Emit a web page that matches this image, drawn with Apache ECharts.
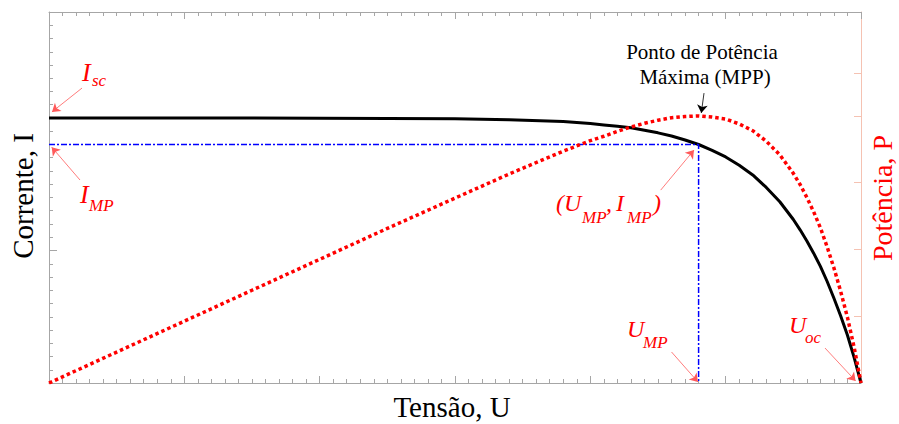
<!DOCTYPE html>
<html>
<head>
<meta charset="utf-8">
<script src="https://cdn.jsdelivr.net/npm/echarts@6/dist/echarts.min.js"></script>
<style>
  html, body { margin: 0; padding: 0; background: #fff; }
  #chart { width: 899px; height: 424px; }
</style>
</head>
<body>
<div id="chart"></div>
<script>
// curvas I-V e P-V
var tensao   = [0, 5, 10, 15, 20, 25, 30, 34, 38, 40, 41, 42, 43, 44, 45, 46, 47, 48, 49, 50, 51, 52, 53, 54, 55, 55.5, 56, 56.5, 57, 57.5, 58, 58.5, 59, 59.5, 60];
var corrente = [1, 1, 1, 1, 0.999, 0.998, 0.997, 0.993, 0.987, 0.979, 0.974, 0.969, 0.963, 0.954, 0.944, 0.932, 0.917, 0.9, 0.878, 0.853, 0.822, 0.785, 0.738, 0.684, 0.617, 0.578, 0.536, 0.49, 0.44, 0.383, 0.32, 0.253, 0.18, 0.095, 0];
var potencia = [0, 5, 10, 15, 20, 25, 29.9, 33.8, 37.5, 39.2, 39.9, 40.7, 41.4, 42.0, 42.5, 42.9, 43.1, 43.2, 43.0, 42.7, 41.9, 40.8, 39.1, 36.9, 33.9, 32.1, 30.0, 27.7, 25.1, 22.0, 18.6, 14.8, 10.6, 5.7, 0];
// ponto de maxima potencia (U_MP, I_MP)
var mpp = [48, 0.9];
// marcas do eixo da potencia
var ticksPotencia = [10.8, 21.6, 32.4, 43.2, 50.1];

var cinza = '#a6a6a6';
var salmao = '#f5c2b2';
var vermelho = '#ff0000';
var serif = '"Liberation Serif", "Times New Roman", serif';

function eixoX(pos) {
  return {
    type: 'value', position: pos, min: 0, max: 60, interval: 10,
    axisLine: { show: true, onZero: false, lineStyle: { color: cinza, width: 1 } },
    axisTick: { show: true, inside: true, length: 7, lineStyle: { color: cinza } },
    minorTick: { show: true, splitNumber: 10, length: 4, lineStyle: { color: cinza } },
    axisLabel: { show: false },
    splitLine: { show: false },
    minorSplitLine: { show: false }
  };
}

// seta (markLine) de um texto ate o ponto
function seta(de, ate, cor) {
  var item = [{ coord: de }, { coord: ate }];
  if (cor) item[0].lineStyle = { color: cor };
  return item;
}

// texto da anotacao
function txt(x, y, s, size, cor, extra) {
  extra = extra || {};
  var t = {
    type: 'text', x: x, y: y, silent: true, z: 100,
    style: {
      text: s, fill: cor || vermelho,
      font: (extra.normal ? '' : 'italic ') + size + 'px ' + serif,
      lineHeight: extra.lineHeight || size + 2,
      align: extra.align || 'left', verticalAlign: 'middle'
    }
  };
  if (extra.rotation) t.rotation = extra.rotation;
  return t;
}

var myChart = echarts.init(document.getElementById('chart'), null, { renderer: 'svg' });

myChart.setOption({
  animation: false,
  backgroundColor: '#fff',
  grid: { left: 49, right: 38, top: 12, bottom: 41, outerBoundsMode: 'none' },
  xAxis: [eixoX('bottom'), eixoX('top')],
  yAxis: [
    { // corrente - marcas menores
      type: 'value', position: 'left', min: 0, max: 1.4, interval: 0.05,
      axisLine: { show: true, onZero: false, lineStyle: { color: cinza } },
      axisTick: { show: true, inside: true, length: 4, lineStyle: { color: cinza } },
      axisLabel: { show: false }, splitLine: { show: false }
    },
    { // potencia
      type: 'value', position: 'right', min: 0, max: 60,
      axisLine: { show: true, onZero: false, lineStyle: { color: salmao } },
      axisTick: { show: true, inside: true, length: 7, customValues: ticksPotencia, lineStyle: { color: salmao } },
      axisLabel: { show: false }, splitLine: { show: false }
    },
    { // corrente - marcas maiores
      type: 'value', position: 'left', min: 0, max: 1.4, interval: 0.5,
      axisLine: { show: false },
      axisTick: { show: true, inside: true, length: 8, lineStyle: { color: cinza } },
      axisLabel: { show: false }, splitLine: { show: false }
    }
  ],
  series: [
    {
      name: 'Corrente', type: 'line', xAxisIndex: 0, yAxisIndex: 0,
      data: tensao.map(function (u, i) { return [u, corrente[i]]; }),
      showSymbol: false, z: 2,
      lineStyle: { color: '#000', width: 3, join: 'round' }
    },
    {
      name: 'MPP', type: 'line', xAxisIndex: 0, yAxisIndex: 0,
      data: [[0, mpp[1]], [mpp[0], mpp[1]], [mpp[0], 0]],
      showSymbol: false, z: 3,
      lineStyle: { color: '#0000ff', width: 1.5, type: [6, 2, 2, 2] },
      markLine: {
        silent: true, symbol: ['none', 'arrow'], symbolSize: 8,
        label: { show: false },
        lineStyle: { color: '#ff5a5a', width: 0.8, type: 'solid' },
        data: [
          seta([2.44, 1.113], [0.22, 1.023]),
          seta([2.29, 0.766], [0.2, 0.89]),
          seta([45.2, 0.728], [47.66, 0.879]),
          seta([46.0, 0.117], [47.95, 0.004]),
          seta([57.34, 0.132], [59.6, 0.008]),
          seta([48.4, 1.094], [48.2, 1.019], '#000')
        ]
      }
    },
    {
      name: 'Potência', type: 'line', xAxisIndex: 0, yAxisIndex: 1,
      data: tensao.map(function (u, i) { return [u, potencia[i]]; }),
      showSymbol: false, z: 4,
      lineStyle: { color: vermelho, width: 3.5, type: [3.5, 3], cap: 'butt' }
    }
  ],
  graphic: [
    // nomes dos eixos
    txt(23, 196, 'Corrente, I', 29, '#000', { normal: true, align: 'center', rotation: Math.PI / 2 }),
    txt(452, 407, 'Tensão, U', 29, '#000', { normal: true, align: 'center', lineHeight: 29 }),
    txt(882, 198, 'Potência, P', 28, vermelho, { normal: true, align: 'center', rotation: Math.PI / 2, lineHeight: 22 }),
    // MPP
    txt(702, 52, 'Ponto de Potência', 21, '#000', { normal: true, align: 'center' }),
    txt(705, 77, 'Máxima (MPP)', 21, '#000', { normal: true, align: 'center' }),
    // I_sc
    txt(82, 72, 'I', 26), txt(92, 80, 'sc', 17),
    // I_MP
    txt(80, 194, 'I', 26), txt(89, 205, 'MP', 17),
    // (U_MP, I_MP)
    txt(556, 203, '(U', 24), txt(582, 217, 'MP', 17), txt(606, 203, ',', 24),
    txt(616, 203, 'I', 24), txt(627, 217, 'MP', 17), txt(653, 203, ')', 24),
    // U_MP
    txt(627, 329, 'U', 24), txt(643, 342, 'MP', 17),
    // U_oc
    txt(789, 325, 'U', 24), txt(805, 337, 'oc', 17)
  ]
});
</script>
</body>
</html>
